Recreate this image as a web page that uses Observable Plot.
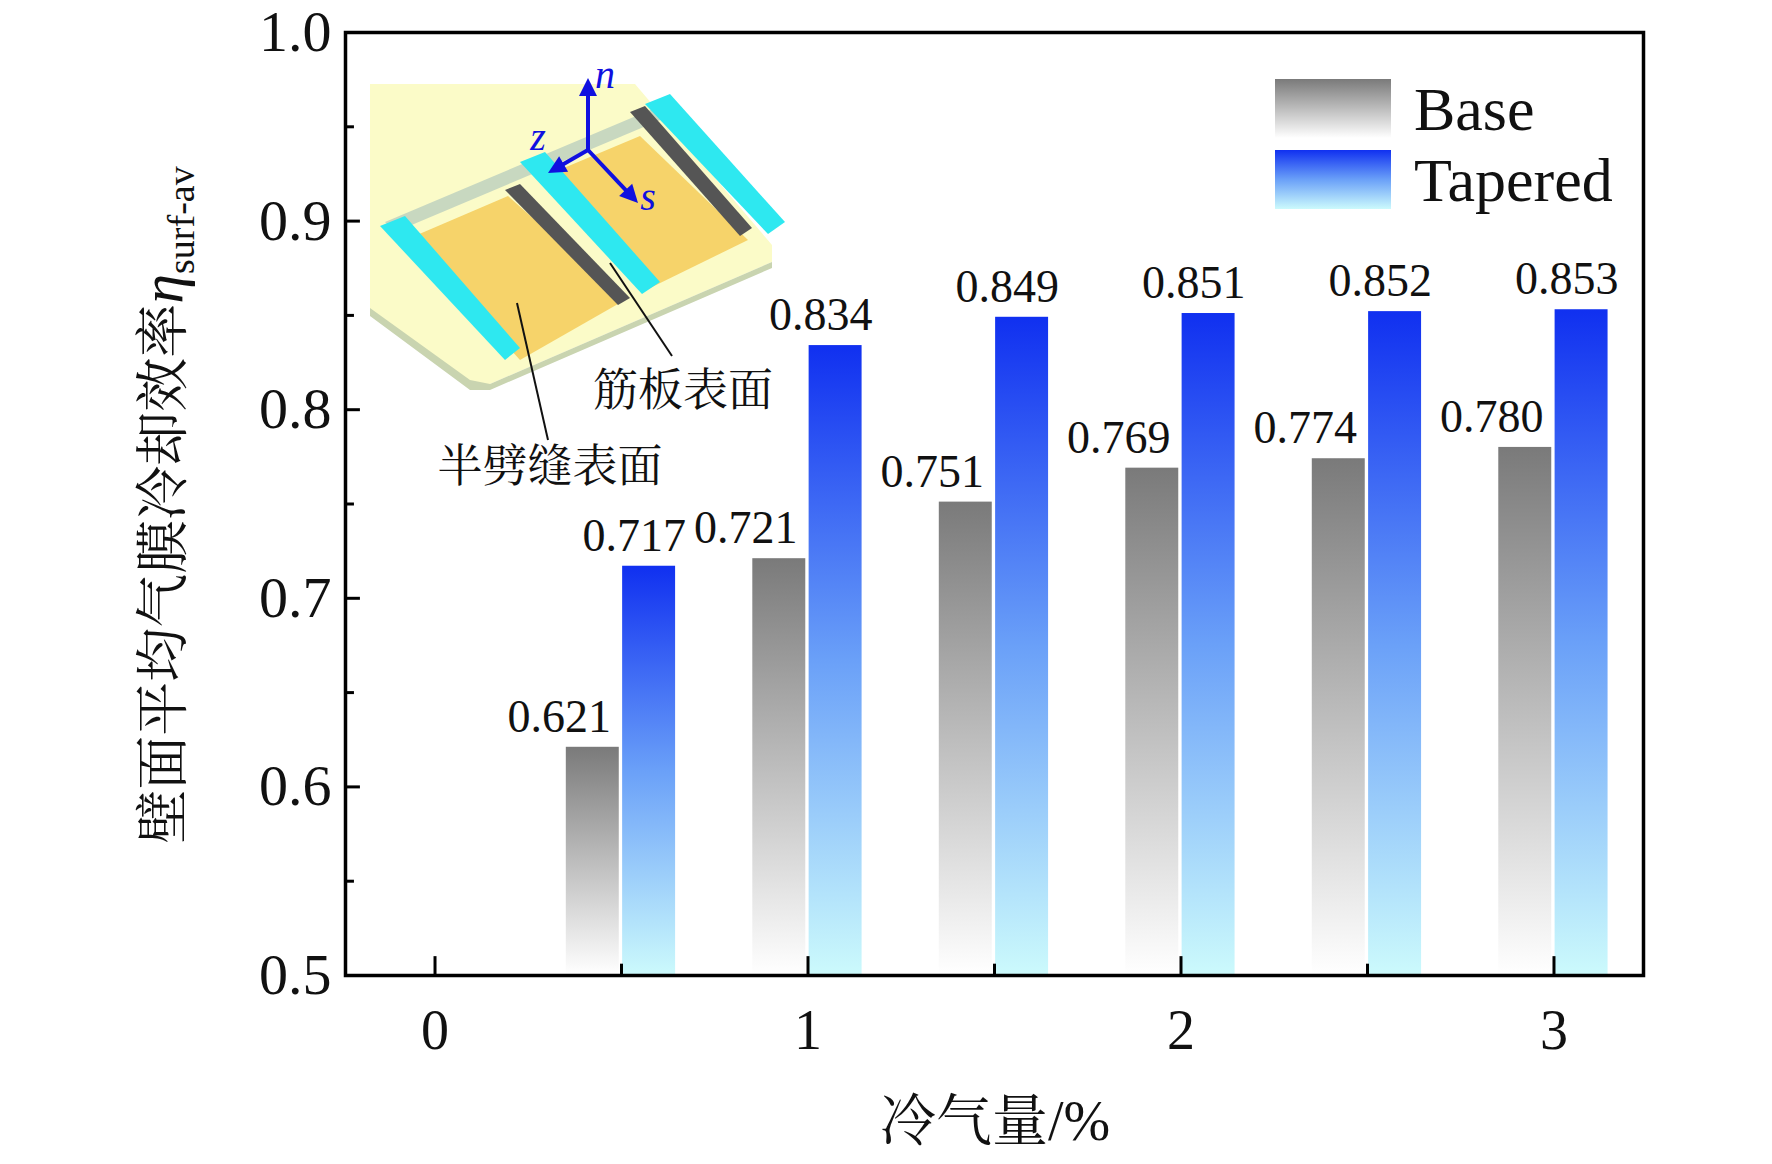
<!DOCTYPE html>
<html><head><meta charset="utf-8">
<script src="https://cdn.jsdelivr.net/npm/d3@7"></script>
<script src="https://cdn.jsdelivr.net/npm/@observablehq/plot@0.6"></script>
<style>body{margin:0;background:#fff}</style>
</head><body><div id="c"></div>
<script>
const coolant = [0.5, 1, 1.5, 2, 2.5, 3];
const baseVals = [0.621, 0.721, 0.751, 0.769, 0.774, 0.780];
const taperedVals = [0.717, 0.834, 0.849, 0.851, 0.852, 0.853];
const series = ["Base", "Tapered"];
const yTicks = [0.5, 0.6, 0.7, 0.8, 0.9, 1.0];
const xTicks = [0, 1, 2, 3];

const W = 1772, H = 1164;
const data = [];
coolant.forEach((c, i) => {
  data.push({x: c, s: "Base", v: baseVals[i]});
  data.push({x: c, s: "Tapered", v: taperedVals[i]});
});
const off = {Base: -0.077, Tapered: 0.074};
const hw = 0.071;
const font = "Liberation Serif, Times New Roman, serif";
const cjk = "Noto Serif CJK SC, Noto Sans CJK SC, sans-serif";

const yMinor = d3.range(0.55, 1.0, 0.1);
const xMinor = [0.5, 1.5, 2.5];

const chart = Plot.plot({
  width: W, height: H,
  marginLeft: 345, marginRight: 129, marginTop: 32, marginBottom: 189,
  style: {fontFamily: font, background: "white"},
  x: {domain: [-0.24, 3.24], axis: null},
  y: {domain: [0.5, 1.0], axis: null},
  marks: [
    Plot.rectY(data, {x1: d => d.x + off[d.s] - hw, x2: d => d.x + off[d.s] + hw, y1: 0.5, y2: "v",
      fill: d => d.s === "Base" ? "url(#gBase)" : "url(#gTap)"}),
    Plot.text(data, {x: d => d.x + off[d.s] - (d.s === "Base" ? 0.09 : 0.04), y: "v", text: d => d.v.toFixed(3),
      dy: -30, fontSize: 46, fill: "#111"}),
    Plot.ruleY(yTicks, {x1: -0.24, x2: -0.24 + 0.04, stroke: "black", strokeWidth: 3}),
    Plot.ruleY(yMinor, {x1: -0.24, x2: -0.24 + 0.024, stroke: "black", strokeWidth: 3}),
    Plot.ruleX(xTicks, {y1: 0.5, y2: 0.5 + 0.01, stroke: "black", strokeWidth: 3}),
    Plot.ruleX(xMinor, {y1: 0.5, y2: 0.5 + 0.006, stroke: "black", strokeWidth: 3}),
    Plot.text(yTicks, {x: -0.24, y: d => d, text: d => d.toFixed(1), textAnchor: "end", dx: -14, fontSize: 58, fill: "#111"}),
    Plot.text(xTicks, {x: d => d, y: 0.5, text: d => String(d), dy: 56, fontSize: 56, fill: "#111"}),
    Plot.frame({stroke: "black", strokeWidth: 3.5})
  ]
});

const svg = d3.select(chart);
const defs = svg.insert("defs", ":first-child");
const g1 = defs.append("linearGradient").attr("id", "gBase").attr("x1", 0).attr("x2", 0).attr("y1", 0).attr("y2", 1);
g1.append("stop").attr("offset", "0%").attr("stop-color", "#7a7a7a");
g1.append("stop").attr("offset", "100%").attr("stop-color", "#ffffff");
const g2 = defs.append("linearGradient").attr("id", "gTap").attr("x1", 0).attr("x2", 0).attr("y1", 0).attr("y2", 1);
g2.append("stop").attr("offset", "0%").attr("stop-color", "#1030f0");
g2.append("stop").attr("offset", "50%").attr("stop-color", "#6aa0f8");
g2.append("stop").attr("offset", "100%").attr("stop-color", "#ccfafc");

// Legend
const leg = svg.append("g").attr("font-family", font).attr("text-anchor", "start");
series.forEach((s, i) => {
  leg.append("rect").attr("x", 1275).attr("y", 79 + i * 71).attr("width", 116).attr("height", 59)
    .attr("fill", i === 0 ? "url(#gBase)" : "url(#gTap)");
  leg.append("text").attr("x", 1414).attr("y", 130 + i * 71).attr("font-size", 62).attr("fill", "#111").text(s);
});

// Axis labels
svg.append("text").attr("transform", "translate(182,505) rotate(-90)").attr("text-anchor", "middle")
  .attr("font-size", 54).attr("font-family", cjk).attr("fill", "#111")
  .call(t => { t.append("tspan").text("壁面平均气膜冷却效率");
    t.append("tspan").attr("font-family", font).attr("font-style", "italic").attr("font-size", 60).text("η");
    t.append("tspan").attr("font-family", font).attr("font-size", 38).attr("dy", 12).text("surf-av"); });
svg.append("text").attr("x", 995).attr("y", 1140).attr("text-anchor", "middle").attr("font-size", 56)
  .attr("font-family", cjk).attr("fill", "#111")
  .call(t => { t.append("tspan").text("冷气量"); t.append("tspan").attr("font-family", font).text("/%"); });

// Inset illustration
const ins = svg.append("g");
const poly = (pts, fill) => ins.append("polygon").attr("points", pts.map(d => d.join(",")).join(" ")).attr("fill", fill);
poly([[370,84],[635,84],[772,245],[772,262],[490,384],[470,384],[370,310]], "#fbfbc8");
poly([[385,222],[655,108],[665,118],[395,232]], "#c8d8c0");
poly([[410,238],[508,196],[625,300],[520,360]], "#f6d36a");
poly([[540,178],[640,136],[748,240],[650,288]], "#f6d36a");
poly([[505,190],[520,184],[630,298],[618,305]], "#555");
poly([[630,112],[645,106],[752,228],[740,236]], "#555");
poly([[380,226],[405,216],[520,348],[505,360]], "#2ee8f0");
poly([[520,162],[545,152],[660,282],[642,294]], "#2ee8f0");
poly([[645,104],[670,94],[785,222],[768,234]], "#2ee8f0");
poly([[370,308],[470,380],[490,384],[772,262],[772,268],[490,390],[470,390],[370,316]], "#c9d4b0");
const blue = "#1010e0";
const arr = (x2, y2) => {
  const x1 = 588, y1 = 150, a = Math.atan2(y2 - y1, x2 - x1);
  ins.append("line").attr("x1", x1).attr("y1", y1).attr("x2", x2 - 12 * Math.cos(a)).attr("y2", y2 - 12 * Math.sin(a)).attr("stroke", blue).attr("stroke-width", 4);
  poly([[x2, y2], [x2 - 18 * Math.cos(a) + 9 * Math.sin(a), y2 - 18 * Math.sin(a) - 9 * Math.cos(a)], [x2 - 18 * Math.cos(a) - 9 * Math.sin(a), y2 - 18 * Math.sin(a) + 9 * Math.cos(a)]], blue);
};
arr(588, 78); arr(548, 173); arr(638, 203);
[["n", 605, 88], ["z", 538, 150], ["s", 648, 210]].forEach(([t, x, y]) =>
  ins.append("text").attr("x", x).attr("y", y).attr("font-family", font).attr("font-style", "italic").attr("font-size", 40).attr("fill", blue).text(t));
ins.append("line").attr("x1", 610).attr("y1", 263).attr("x2", 672).attr("y2", 356).attr("stroke", "#111").attr("stroke-width", 2);
ins.append("line").attr("x1", 517).attr("y1", 303).attr("x2", 548).attr("y2", 440).attr("stroke", "#111").attr("stroke-width", 2);
ins.append("text").attr("x", 683).attr("y", 406).attr("text-anchor", "middle").attr("font-size", 45).attr("font-family", cjk).attr("fill", "#111").text("筋板表面");
ins.append("text").attr("x", 550).attr("y", 482).attr("text-anchor", "middle").attr("font-size", 45).attr("font-family", cjk).attr("fill", "#111").text("半劈缝表面");

document.getElementById("c").append(chart);
</script></body></html>
